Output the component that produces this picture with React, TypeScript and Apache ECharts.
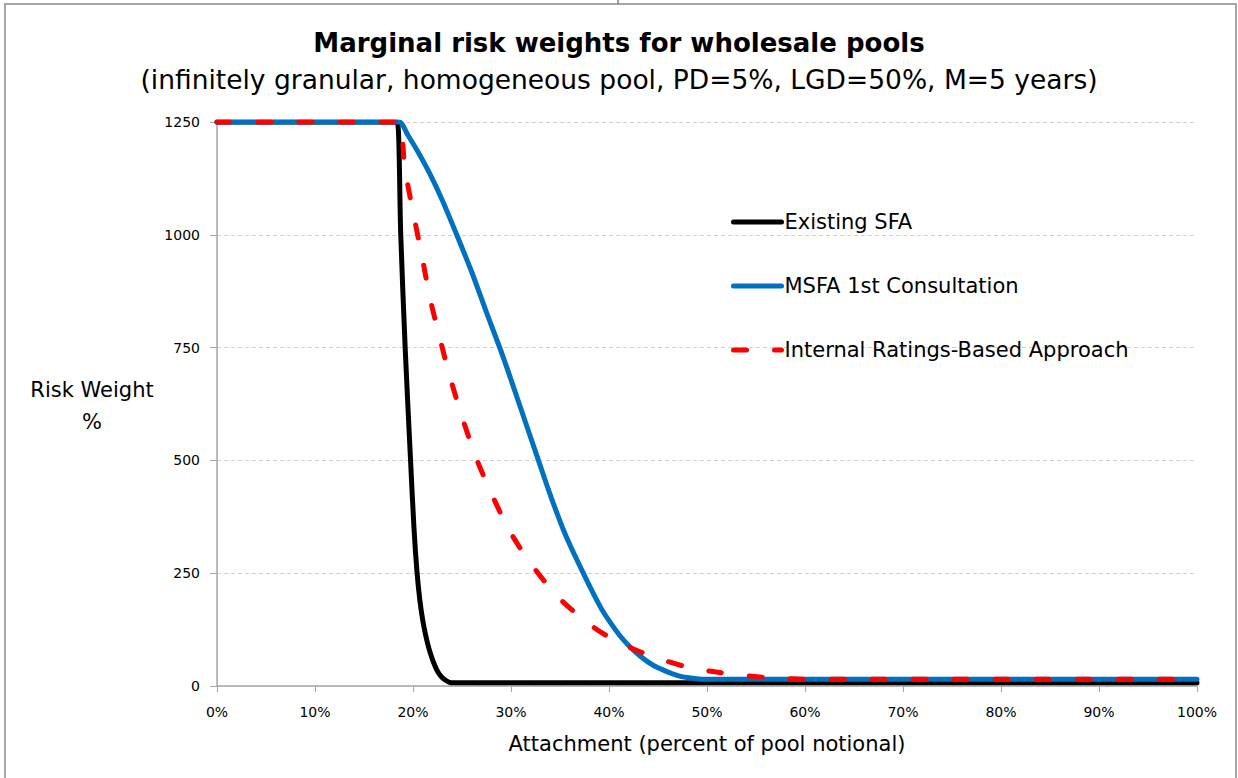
import React, { useEffect, useRef } from "react";
import * as echarts from "echarts";

const titleText = "Marginal risk weights for wholesale pools";
const subtitleText = "(infinitely granular, homogeneous pool, PD=5%, LGD=50%, M=5 years)";
const xAxisTitle = "Attachment (percent of pool notional)";
const yAxisTitle = "Risk Weight\n%";
const seriesNames = ["Existing SFA", "MSFA 1st Consultation", "Internal Ratings-Based Approach"];

// Existing SFA
const sfaX = [0, 18, 18.4, 18.75, 19.2, 19.75, 20.1, 20.4, 20.7, 21.0, 21.3, 21.6, 22.0, 22.4, 22.8, 23.3, 23.9, 30, 100];
const sfaY = [1250, 1250, 1250, 1000, 750, 500, 350, 255, 190, 145, 112, 85, 58, 37, 23, 13, 7, 7, 7];

// MSFA 1st Consultation
const msfaX = [0, 18, 18.6, 19.5, 20.5, 21.7, 23, 24.5, 26, 27.5, 29.2, 31, 32.8, 34, 35.5, 37.4, 39.1, 40, 41.1, 42, 43.2, 44.5, 45.9, 47.2, 48.6, 49.5, 55, 100];
const msfaY = [1250, 1250, 1250, 1220, 1184, 1136, 1076, 998, 917, 828, 729, 615, 500, 424, 338, 249, 176, 145, 112, 90, 66, 46, 32, 22, 17, 15, 15, 15];

// Internal Ratings-Based Approach
const irbX = [0, 18, 18.6, 19.2, 20, 20.9, 21.7, 22.7, 23.8, 25, 26.4, 28.1, 29.9, 32.3, 35, 38.2, 40.2, 42.5, 45.2, 48, 50.6, 53.5, 56.7, 60, 65, 100];
const irbY = [1250, 1250, 1250, 1144, 1051, 954, 863, 774, 683, 597, 508, 422, 342, 263, 193, 134, 106, 82, 60, 42, 32, 24, 18, 15, 15, 15];

const FONT = "'DejaVu Sans', 'Verdana', sans-serif";

const zip = (xs: number[], ys: number[]) => xs.map((x, i) => [x, ys[i]]);

export default function App() {
  const ref = useRef<HTMLDivElement>(null);
  useEffect(() => {
    if (!ref.current) return;
    const chart = echarts.init(ref.current, null, { renderer: "svg" });
    chart.setOption({
      animation: false,
      backgroundColor: "#ffffff",
      title: {
        text: titleText,
        subtext: subtitleText,
        left: "center",
        top: 22,
        itemGap: 4,
        textStyle: { fontFamily: FONT, fontWeight: "bold", fontSize: 26, color: "#000", lineHeight: 32 },
        subtextStyle: { fontFamily: FONT, fontSize: 26.5, color: "#000", lineHeight: 32 },
      },
      legend: {
        orient: "vertical",
        left: 731,
        top: 209,
        padding: 0,
        itemWidth: 48,
        itemHeight: 14,
        itemGap: 38,
        itemStyle: { color: "rgba(0,0,0,0)", opacity: 0, borderWidth: 0 },
        lineStyle: { width: 5 },
        textStyle: { fontFamily: FONT, fontSize: 21, color: "#000", lineHeight: 26, padding: [0, 0, 0, -2] },
        data: seriesNames,
      },
      grid: { left: 217, right: 41, top: 122, bottom: 92, containLabel: false },
      xAxis: {
        type: "value",
        min: 0,
        max: 100,
        interval: 10,
        name: xAxisTitle,
        nameLocation: "middle",
        nameGap: 47,
        nameTextStyle: { fontFamily: FONT, fontSize: 21, color: "#000" },
        axisLine: { show: true, lineStyle: { color: "#a6a6a6", width: 1.5 } },
        axisTick: { show: true, length: 6, lineStyle: { color: "#a6a6a6" } },
        axisLabel: { formatter: "{value}%", fontFamily: FONT, fontSize: 14, color: "#000", margin: 19 },
        splitLine: { show: false },
      },
      yAxis: {
        type: "value",
        min: 0,
        max: 1250,
        interval: 250,
        axisLine: { show: true, lineStyle: { color: "#a6a6a6", width: 1.5 } },
        axisTick: { show: true, length: 7, lineStyle: { color: "#a6a6a6" } },
        axisLabel: { fontFamily: FONT, fontSize: 14, color: "#000", margin: 17, formatter: (v: number) => String(v) },
        splitLine: { show: true, lineStyle: { color: "#d0d0d0", type: [4, 3], width: 1 } },
      },
      graphic: [
        {
          type: "rect",
          shape: { x: 5, y: 4, width: 1231, height: 800 },
          style: { fill: "none", stroke: "#a6a6a6", lineWidth: 2 },
          silent: true,
        },
        {
          type: "line",
          shape: { x1: 618, y1: 0, x2: 618, y2: 4 },
          style: { stroke: "#808080", lineWidth: 1.5 },
          silent: true,
        },
        {
          type: "text",
          x: 92,
          y: 374,
          style: {
            text: yAxisTitle,
            fontFamily: FONT,
            fontSize: 21,
            lineHeight: 32,
            fill: "#000",
            align: "center",
            textAlign: "center",
          },
          silent: true,
        },
      ],
      series: [
        {
          name: seriesNames[0],
          type: "line",
          symbol: "none",
          smooth: 0.3,
          data: zip(sfaX, sfaY),
          lineStyle: { color: "#000000", width: 5, cap: "round", join: "round" },
          itemStyle: { color: "#000000", opacity: 0 },
        },
        {
          name: seriesNames[1],
          type: "line",
          symbol: "none",
          smooth: 0.3,
          data: zip(msfaX, msfaY),
          lineStyle: { color: "#0070C0", width: 5, cap: "round", join: "round" },
          itemStyle: { color: "#0070C0", opacity: 0 },
        },
        {
          name: seriesNames[2],
          type: "line",
          symbol: "none",
          smooth: 0.3,
          data: zip(irbX, irbY),
          lineStyle: { color: "#FF0000", width: 5, cap: "round", join: "round", type: [13, 28] },
          itemStyle: { color: "#FF0000", opacity: 0 },
        },
      ],
    });
    return () => chart.dispose();
  }, []);
  return (
    <div
      ref={ref}
      style={{ position: "absolute", left: 0, top: 0, width: 1238, height: 778 }}
    />
  );
}
